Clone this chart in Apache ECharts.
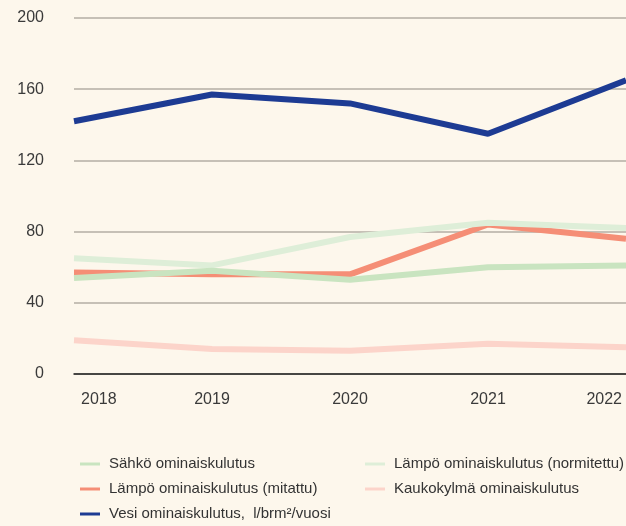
<!DOCTYPE html>
<html>
<head>
<meta charset="utf-8">
<script src="https://cdn.jsdelivr.net/npm/echarts@6/dist/echarts.min.js"></script>
<style>
  html, body { margin: 0; padding: 0; background: #fdf7ec; }
  #chart { width: 626px; height: 526px; }
</style>
</head>
<body>
<div id="chart"></div>
<script>
// vuodet ja kulutusarvot
const years = ['2018', '2019', '2020', '2021', '2022'];
const sahko = [54, 58, 53, 60, 61];
const lampoNormitettu = [65, 61, 77, 85, 82];
const lampoMitattu = [57, 56, 56, 84, 76];
const kaukokylma = [19, 14, 13, 17, 15];
const vesi = [142, 157, 152, 135, 165];
const yTicks = { min: 0, max: 200, interval: 40 };

const FONT = '"Liberation Sans", Arial, sans-serif';

let myChart = echarts.init(document.getElementById('chart'));

function lineSeries(name, data, color, z) {
  return {
    name: name,
    type: 'line',
    data: data,
    z: z,
    symbol: 'none',
    lineStyle: { color: color, width: 6 },
    itemStyle: { color: color },
    emphasis: { disabled: true }
  };
}

let legendBase = {
  orient: 'vertical',
  top: 456,
  height: 70,
  padding: 0,
  icon: 'rect',
  itemWidth: 20,
  itemHeight: 3,
  itemGap: 9,
  textStyle: {
    fontFamily: FONT,
    fontSize: 15,
    color: '#333',
    lineHeight: 16,
    padding: [0, 0, 0, 4]
  }
};

let option = {
  backgroundColor: '#fdf7ec',
  animation: false,
  grid: {
    left: 74,
    right: 0,
    top: 18,
    bottom: 152
  },
  legend: [
    Object.assign({}, legendBase, {
      left: 80,
      data: ['Sähkö ominaiskulutus', 'Lämpö ominaiskulutus (mitattu)', 'Vesi ominaiskulutus,  l/brm²/vuosi']
    }),
    Object.assign({}, legendBase, {
      left: 365,
      data: ['Lämpö ominaiskulutus (normitettu)', 'Kaukokylmä ominaiskulutus']
    })
  ],
  xAxis: {
    type: 'category',
    boundaryGap: false,
    data: years,
    axisLine: { lineStyle: { color: '#1e1e1e', width: 1.5 } },
    axisTick: { show: false },
    axisLabel: {
      margin: 18,
      fontFamily: FONT,
      fontSize: 16,
      color: '#3a3a3a',
      alignMinLabel: 'left',
      alignMaxLabel: 'right',
      formatter: function (v, i) {
        if (i === 0) return '{f|' + v + '}';
        if (i === years.length - 1) return '{l|' + v + '}';
        return v;
      },
      rich: {
        f: { fontFamily: FONT, fontSize: 16, color: '#3a3a3a', padding: [0, 0, 0, 7] },
        l: { fontFamily: FONT, fontSize: 16, color: '#3a3a3a', padding: [0, 4, 0, 0] }
      }
    }
  },
  yAxis: {
    type: 'value',
    min: yTicks.min,
    max: yTicks.max,
    interval: yTicks.interval,
    axisLine: { show: false },
    axisTick: { show: false },
    axisLabel: {
      margin: 30,
      fontFamily: FONT,
      fontSize: 16,
      color: '#3a3a3a'
    },
    splitLine: { lineStyle: { color: '#b3aea5', width: 1.5 } }
  },
  series: [
    lineSeries('Lämpö ominaiskulutus (mitattu)', lampoMitattu, '#f58e76', 2),
    lineSeries('Lämpö ominaiskulutus (normitettu)', lampoNormitettu, '#deeed8', 3),
    lineSeries('Sähkö ominaiskulutus', sahko, '#c9e4c0', 4),
    lineSeries('Kaukokylmä ominaiskulutus', kaukokylma, '#fcd4ca', 5),
    lineSeries('Vesi ominaiskulutus,  l/brm²/vuosi', vesi, '#1d3b93', 6)
  ]
};

myChart.setOption(option);
</script>
</body>
</html>
